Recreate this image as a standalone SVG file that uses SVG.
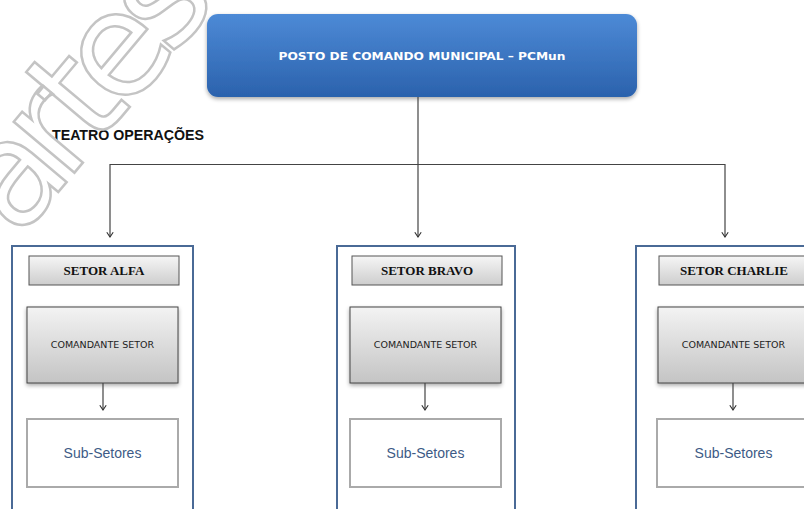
<svg xmlns="http://www.w3.org/2000/svg" width="804" height="509" viewBox="0 0 804 509">
  <defs>
    <linearGradient id="gBlue" x1="0" y1="0" x2="0" y2="1">
      <stop offset="0" stop-color="#4d8ad6"/>
      <stop offset="1" stop-color="#2b62ad"/>
    </linearGradient>
    <linearGradient id="gHead" x1="0" y1="0" x2="0" y2="1">
      <stop offset="0" stop-color="#f6f6f6"/>
      <stop offset="1" stop-color="#cdcdcd"/>
    </linearGradient>
    <linearGradient id="gCmd" x1="0" y1="0" x2="0" y2="1">
      <stop offset="0" stop-color="#f3f3f3"/>
      <stop offset="1" stop-color="#c4c4c4"/>
    </linearGradient>
    <filter id="shadow" x="-10%" y="-10%" width="120%" height="140%">
      <feGaussianBlur in="SourceAlpha" stdDeviation="2"/>
      <feOffset dy="2" result="b"/>
      <feComponentTransfer><feFuncA type="linear" slope="0.35"/></feComponentTransfer>
      <feMerge><feMergeNode/><feMergeNode in="SourceGraphic"/></feMerge>
    </filter>
    <marker id="arrow" viewBox="0 0 10 10" refX="9" refY="5" markerWidth="8" markerHeight="8" markerUnits="userSpaceOnUse" orient="auto-start-reverse">
      <path d="M3,1 L9,5 L3,9" fill="none" stroke="#333" stroke-width="1.4"/>
    </marker>
  </defs>
  <style>
    .sector { fill: #ffffff; stroke: #4a6a96; stroke-width: 2; }
    .head { fill: url(#gHead); stroke: #555; stroke-width: 1; }
    .cmd { fill: url(#gCmd); stroke: #444; stroke-width: 1; }
    .sub { fill: #ffffff; stroke: #aaaaaa; stroke-width: 2; }
    .link { fill: none; stroke: #444; stroke-width: 1.2; }
    .t-head { font-family: "Liberation Serif", "DejaVu Serif", serif; font-weight: bold; font-size: 13px; fill: #111; text-anchor: middle; }
    .t-cmd { font-family: "DejaVu Sans", Verdana, sans-serif; font-size: 9.5px; fill: #222; text-anchor: middle; }
    .t-sub { font-family: "Liberation Sans", "Open Sans", sans-serif; font-size: 14px; fill: #3d5b86; text-anchor: middle; }
    .t-top { font-family: "DejaVu Sans", Verdana, sans-serif; font-weight: bold; font-size: 10.5px; fill: #ffffff; text-anchor: middle; }
    .t-label { font-family: "Liberation Sans", "Open Sans", sans-serif; font-weight: bold; font-size: 14px; fill: #111; }
  </style>

  <rect width="804" height="509" fill="#ffffff"/>

  <!-- municipal command post -->
  <g id="pcmun">
    <rect x="207" y="14" width="430" height="83" rx="11" fill="url(#gBlue)" filter="url(#shadow)"/>
    <text class="t-top" x="422" y="60" textLength="287" lengthAdjust="spacingAndGlyphs">POSTO DE COMANDO MUNICIPAL – PCMun</text>
  </g>

  <g id="teatro">
    <text class="t-label" x="52" y="140" textLength="152" lengthAdjust="spacingAndGlyphs">TEATRO OPERAÇÕES</text>
  </g>

  <!-- sector ALFA -->
  <g id="setor-alfa">
    <rect class="sector" x="12" y="246" width="181" height="275"/>
    <rect class="head" x="29" y="256" width="150" height="29"/>
    <text class="t-head" x="104" y="275">SETOR ALFA</text>
    <rect class="cmd" x="27" y="307" width="151" height="76" filter="url(#shadow)"/>
    <text class="t-cmd" x="102.5" y="348">COMANDANTE SETOR</text>
    <rect class="sub" x="27" y="419" width="151" height="68"/>
    <text class="t-sub" x="102.5" y="458">Sub-Setores</text>
  </g>

  <!-- sector BRAVO -->
  <g id="setor-bravo">
    <rect class="sector" x="337" y="246" width="178" height="275"/>
    <rect class="head" x="352" y="256" width="150" height="29"/>
    <text class="t-head" x="427" y="275">SETOR BRAVO</text>
    <rect class="cmd" x="350" y="307" width="151" height="76" filter="url(#shadow)"/>
    <text class="t-cmd" x="425.5" y="348">COMANDANTE SETOR</text>
    <rect class="sub" x="350" y="419" width="151" height="68"/>
    <text class="t-sub" x="425.5" y="458">Sub-Setores</text>
  </g>

  <!-- sector CHARLIE -->
  <g id="setor-charlie">
    <rect class="sector" x="636" y="246" width="181" height="275"/>
    <rect class="head" x="659" y="256" width="150" height="29"/>
    <text class="t-head" x="734" y="275">SETOR CHARLIE</text>
    <rect class="cmd" x="658" y="307" width="151" height="76" filter="url(#shadow)"/>
    <text class="t-cmd" x="733.5" y="348">COMANDANTE SETOR</text>
    <rect class="sub" x="657" y="419" width="151" height="68"/>
    <text class="t-sub" x="733.5" y="458">Sub-Setores</text>
  </g>

  <!-- connectors -->
  <g id="connectors">
    <path class="link" d="M418,97 V237" marker-end="url(#arrow)"/>
    <path class="link" d="M110,237 V164.5 H725 V237" marker-start="url(#arrow)" marker-end="url(#arrow)"/>
    <path class="link" d="M103,383 V410" marker-end="url(#arrow)"/>
    <path class="link" d="M425,383 V410" marker-end="url(#arrow)"/>
    <path class="link" d="M733,383 V410" marker-end="url(#arrow)"/>
  </g>

  <!-- outlined watermark lettering -->
  <g id="watermark">
    <text x="18" y="240" transform="rotate(-50 18 240)" font-family="'DejaVu Sans', sans-serif" font-size="145" letter-spacing="-14" fill="#ffffff" fill-opacity="0.85" stroke="#c4c4c4" stroke-width="2.5">artes</text>
  </g>
</svg>
